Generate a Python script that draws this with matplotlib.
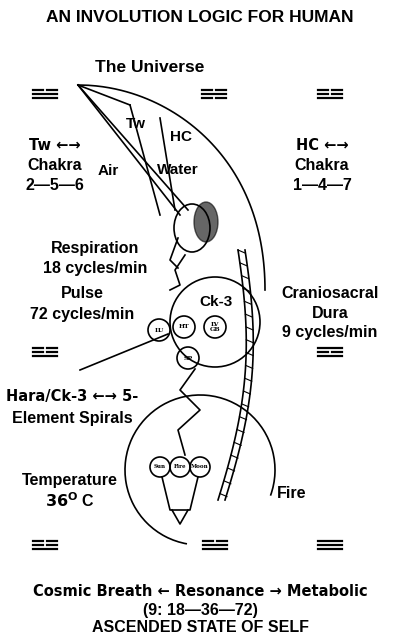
import numpy as np
import matplotlib
matplotlib.use("Agg")
import matplotlib.pyplot as plt
from matplotlib.patches import Circle, Ellipse, Arc

plt.rcParams['font.family'] = ['Liberation Sans', 'DejaVu Sans']
plt.rcParams['font.weight'] = 'bold'

title = "AN INVOLUTION LOGIC FOR HUMAN"
# (text, x, y, size) in pixel coordinates of the 400x641 page
labels = [
    ("The Universe", 150, 68, 12.5),
    ("Tw \u2190\u2192", 55, 146, 11.5), ("Chakra", 55, 166, 11.5), ("2\u20145\u20146", 55, 186, 11.5),
    ("Tw", 136, 124, 11), ("HC", 181, 137, 11), ("Air", 108, 171, 11), ("Water", 178, 170, 11),
    ("HC \u2190\u2192", 322, 146, 11.5), ("Chakra", 322, 166, 11.5), ("1\u20144\u20147", 322, 186, 11.5),
    ("Respiration", 95, 249, 11.5), ("18 cycles/min", 95, 269, 11.5),
    ("Pulse", 82, 294, 11.5), ("72 cycles/min", 82, 314, 11.5),
    ("Ck-3", 216, 302, 11),
    ("Craniosacral", 330, 293, 11.5), ("Dura", 330, 313, 11.5), ("9 cycles/min", 330, 333, 11.5),
    ("Hara/Ck-3 \u2190\u2192 5-", 72, 396, 11.5), ("Element Spirals", 72, 418, 11.5),
    ("Temperature", 70, 480, 11.5), ("$\\mathbf{36^{O}}$ C", 70, 501, 11.5),
    ("Fire", 292, 493, 11.5),
    ("Cosmic Breath \u2190 Resonance \u2192 Metabolic", 200, 592, 11.5),
    ("(9: 18\u201436\u201472)", 200, 610, 11.5),
    ("ASCENDED STATE OF SELF", 200, 628, 11.5),
]
organs = [("LU", 159, 330, 11), ("HT", 184, 327, 12), ("LV\nGB", 215, 327, 14), ("SP", 188, 358, 10)]
cups = [("Sun", 160, 467), ("Fire", 180, 467), ("Moon", 200, 467)]
# trigram positions and pattern (1 solid, 0 broken), top to bottom
trigrams = [(45, 94, [0, 1, 1]), (214, 94, [0, 1, 0]), (330, 94, [0, 0, 1]),
            (45, 352, [0, 0, 1]), (330, 352, [1, 0, 1]),
            (45, 545, [0, 0, 1]), (215, 545, [0, 1, 1]), (330, 545, [1, 1, 1])]

fig = plt.figure(figsize=(4, 6.41), dpi=100)
ax = fig.add_axes([0, 0, 1, 1])
ax.set_xlim(0, 400)
ax.set_ylim(641, 0)
ax.axis('off')

ax.text(200, 18, title, ha='center', va='center', fontsize=12.5)
for t, x, y, s in labels:
    fam = ['DejaVu Sans'] if '\u2190' in t or '\u2192' in t else None
    ax.text(x, y, t, ha='center', va='center', fontsize=s - (1 if fam else 0), family=fam)

for x, y, pat in trigrams:
    for i, solid in enumerate(pat):
        yy = y - 4 + i * 4
        if solid:
            ax.plot([x - 12, x + 12], [yy, yy], color='black', lw=1.6)
        else:
            ax.plot([x - 12, x - 2], [yy, yy], color='black', lw=1.6)
            ax.plot([x + 2, x + 12], [yy, yy], color='black', lw=1.6)

k = dict(color='black', lw=1.2)
# cone from universe to head
ax.plot([78, 180], [85, 215], **k)
ax.plot([78, 188], [85, 210], **k)
ax.plot([78, 130], [85, 105], **k)
ax.plot([130, 160], [105, 215], **k)
ax.plot([160, 175], [118, 210], **k)
# big arc around head
tt = np.linspace(0, 1, 60)
ax.plot(78 + 187 * np.sin(tt * np.pi / 2) ** 0.8, 85 + 205 * tt ** 1.6, **k)
# head
ax.add_patch(Ellipse((192, 228), 36, 48, fill=False, **k))
ax.add_patch(Ellipse((206, 222), 24, 40, color='black', alpha=0.6))
ax.plot([178, 170, 178], [238, 260, 268], **k)
# spine
sy = np.linspace(250, 500, 40)
sx = 238 + 12 * np.sin((sy - 250) / 250 * np.pi) - 20 * ((sy - 250) / 250) ** 2
ax.plot(sx, sy, **k)
ax.plot(sx + 7, sy, **k)
for a, b in zip(sx[::2], sy[::2]):
    ax.plot([a, a + 7], [b, b + 3], color='black', lw=0.8)
# body outline
ax.plot([185, 175, 180, 170], [255, 270, 285, 290], **k)
ax.add_patch(Circle((215, 322), 45, fill=False, **k))
for t, x, y, s in organs:
    ax.add_patch(Circle((x, y), 11, fill=False, **k))
    ax.text(x, y, t, ha='center', va='center', fontsize=4.5, family='DejaVu Serif')
ax.plot([80, 168], [370, 334], **k)
ax.plot([195, 180, 200, 178, 185], [369, 390, 410, 430, 455], **k)
# pelvis cup
for t, x, y in cups:
    ax.add_patch(Circle((x, y), 10, fill=False, **k))
    ax.text(x, y, t, ha='center', va='center', fontsize=4, family='DejaVu Serif')
ax.plot([162, 170, 190, 198], [477, 510, 510, 477], **k)
ax.plot([172, 180, 188], [510, 524, 510], **k)
ax.add_patch(Arc((200, 470), 150, 150, theta1=100, theta2=380, **k))

fig.savefig('out.png', dpi=100)
